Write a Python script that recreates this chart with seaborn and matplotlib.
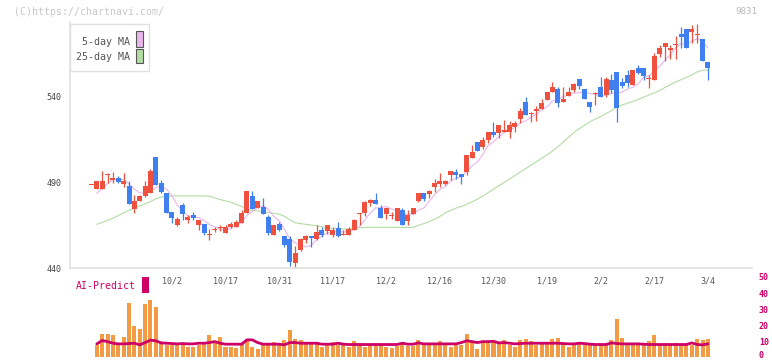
import numpy as np
import pandas as pd
import seaborn as sns
import matplotlib.pyplot as plt
import matplotlib.transforms as mtransforms
from matplotlib.patches import Rectangle

# daily candles, index 0 = first day shown, last one = 3/4
opens = [488.8, 485.9, 485.9, 494.1, 491.4, 492.5, 489.0, 487.7, 474.3, 479.0,
         481.9, 483.4, 504.7, 489.6, 483.8, 472.6, 465.2, 476.6, 467.9, 470.8,
         465.0, 465.6, 459.6, 462.5, 463.6, 460.5, 463.8, 464.0, 466.2, 472.0,
         482.1, 474.9, 475.3, 469.8, 459.2, 465.6, 458.6, 456.7, 442.7, 450.5,
         456.3, 458.6, 456.7, 462.1, 461.5, 459.2, 463.0, 459.2, 459.2, 462.1,
         471.8, 471.8, 477.8, 479.3, 474.9, 471.4, 470.8, 467.5, 473.7, 467.5,
         471.4, 479.1, 483.4, 483.0, 487.3, 488.8, 488.8, 494.1, 495.6, 494.7,
         495.6, 504.2, 513.3, 510.2, 514.2, 518.9, 518.3, 519.0, 518.9, 522.2,
         526.6, 536.5, 529.5, 531.5, 532.2, 537.9, 542.1, 543.9, 536.5, 540.0,
         543.5, 549.7, 544.1, 536.6, 541.2, 545.3, 540.6, 549.3, 554.0, 548.3,
         552.2, 546.4, 556.5, 556.5, 549.9, 549.3, 564.4, 568.7, 566.6, 570.1,
         576.1, 579.0, 577.4, 575.9, 573.1, 559.6]
highs = [488.8, 490.6, 496.4, 495.0, 495.8, 493.3, 495.0, 490.6, 482.4, 482.5,
         490.6, 497.6, 504.7, 491.0, 483.8, 472.6, 469.5, 478.0, 470.8, 472.6,
         467.9, 465.6, 462.7, 464.0, 465.0, 465.0, 466.9, 467.9, 473.7, 484.8,
         484.8, 479.0, 480.5, 470.8, 465.0, 466.9, 458.6, 458.6, 452.8, 457.5,
         459.2, 458.6, 465.0, 464.0, 465.0, 464.0, 466.7, 462.1, 464.0, 468.7,
         471.8, 478.7, 480.1, 483.8, 476.6, 474.9, 472.4, 474.9, 474.7, 473.7,
         474.7, 483.4, 483.4, 485.3, 491.6, 495.0, 491.0, 496.4, 497.6, 494.7,
         505.9, 511.5, 513.3, 516.0, 518.9, 524.7, 523.1, 526.0, 525.4, 525.4,
         532.8, 539.6, 530.5, 534.4, 538.0, 542.3, 548.1, 545.4, 545.4, 545.4,
         547.7, 549.7, 544.1, 536.6, 542.2, 551.2, 551.2, 552.7, 554.0, 550.3,
         555.1, 555.1, 558.0, 556.5, 552.2, 564.8, 569.7, 570.8, 569.7, 574.9,
         580.0, 579.0, 581.3, 581.9, 573.1, 559.6]
lows = [488.8, 485.9, 485.9, 489.2, 489.2, 489.2, 487.3, 477.2, 472.0, 479.0,
        481.5, 483.4, 488.3, 483.4, 471.8, 466.4, 464.6, 467.9, 466.4, 467.9,
        462.1, 459.2, 456.3, 461.1, 461.5, 460.5, 463.1, 464.0, 466.2, 472.0,
        474.3, 474.9, 471.4, 459.2, 459.2, 461.5, 452.4, 441.2, 440.8, 450.0,
        454.4, 452.4, 456.3, 457.8, 459.6, 457.8, 458.0, 459.2, 459.2, 462.1,
        465.0, 470.2, 476.0, 477.2, 469.1, 468.5, 468.3, 467.5, 465.0, 465.0,
        471.4, 478.1, 479.0, 480.5, 484.4, 487.3, 488.3, 491.2, 491.6, 488.8,
        494.3, 504.2, 508.2, 509.0, 512.5, 516.0, 515.8, 518.9, 515.8, 518.9,
        524.1, 528.9, 525.0, 525.2, 532.2, 537.4, 542.1, 533.8, 536.5, 540.0,
        542.5, 543.9, 538.1, 530.7, 535.0, 539.6, 539.6, 541.6, 525.0, 544.5,
        545.4, 546.4, 552.6, 549.3, 544.9, 549.3, 562.9, 560.6, 561.5, 561.5,
        567.7, 567.7, 570.6, 570.6, 560.6, 549.1]
closes = [488.8, 490.6, 490.6, 494.1, 492.5, 489.8, 490.6, 477.2, 479.0, 481.9,
          487.7, 496.4, 488.3, 484.4, 472.2, 469.3, 468.7, 471.4, 469.8, 468.9,
          467.9, 460.5, 459.6, 462.5, 463.6, 463.8, 465.8, 466.7, 472.0, 484.8,
          474.3, 479.0, 471.4, 460.5, 465.0, 462.1, 453.4, 443.7, 448.9, 456.8,
          458.6, 457.6, 461.1, 459.2, 465.0, 462.1, 458.5, 459.8, 462.5, 467.9,
          471.8, 478.1, 479.3, 477.2, 469.1, 474.9, 470.8, 474.9, 465.0, 470.8,
          474.7, 483.4, 480.1, 484.8, 489.6, 490.8, 490.8, 496.4, 494.1, 493.1,
          505.9, 507.7, 508.2, 514.6, 518.9, 517.4, 523.1, 520.0, 523.1, 524.5,
          531.5, 528.9, 530.3, 532.4, 535.7, 542.3, 545.0, 536.1, 538.3, 542.3,
          546.8, 546.0, 538.1, 533.6, 541.2, 539.6, 549.9, 543.7, 532.8, 546.0,
          547.7, 555.1, 553.5, 551.8, 549.9, 563.4, 568.1, 570.8, 568.1, 570.1,
          574.3, 567.7, 578.9, 575.9, 560.6, 556.5]

ma5 = [np.nan, 483.4, 486.2, 489.0, 491.3, 491.5, 491.5, 488.8, 485.8, 483.7,
       483.3, 484.4, 486.7, 487.7, 485.8, 482.1, 476.6, 473.2, 470.3, 469.6,
       469.3, 467.7, 465.3, 463.9, 462.8, 462.0, 463.1, 464.5, 466.4, 470.6,
       472.7, 475.4, 476.3, 474.0, 470.0, 467.6, 462.5, 456.9, 454.6, 453.0,
       452.3, 453.1, 456.6, 458.7, 460.3, 461.0, 461.2, 460.9, 461.6, 462.2,
       464.1, 468.0, 471.9, 474.9, 475.1, 475.7, 474.3, 473.4, 470.9, 471.3,
       471.2, 473.8, 474.8, 478.8, 482.5, 485.7, 487.2, 490.5, 492.3, 493.0,
       496.1, 499.4, 501.8, 505.9, 511.1, 513.4, 516.4, 518.8, 520.5, 521.6,
       524.4, 525.6, 527.7, 529.5, 531.8, 533.9, 537.1, 538.3, 539.5, 540.8,
       541.7, 541.9, 542.3, 541.4, 541.1, 539.7, 540.5, 541.6, 541.4, 542.4,
       544.0, 545.1, 547.0, 550.8, 551.6, 554.7, 557.3, 560.8, 564.1, 568.1,
       570.3, 570.2, 571.8, 573.4, 571.5, 567.9]
ma25 = [np.nan, 465.4, 466.5, 467.7, 468.9, 470.5, 472.0, 473.5, 474.8, 476.0,
        477.3, 478.6, 480.2, 481.2, 481.8, 481.9, 481.9, 481.9, 481.9, 481.9,
        481.9, 481.9, 481.8, 480.8, 479.8, 479.0, 478.2, 477.0, 475.8, 474.0,
        473.5, 473.2, 472.8, 472.2, 471.8, 471.3, 470.0, 468.0, 466.3, 465.8,
        465.4, 465.0, 464.6, 464.0, 463.3, 463.0, 462.8, 462.6, 462.8, 463.1,
        463.4, 463.6, 463.6, 463.6, 463.6, 463.6, 463.6, 463.6, 463.6, 463.6,
        463.6, 464.8, 465.8, 467.0, 468.3, 470.0, 472.0, 473.5, 474.8, 475.8,
        477.0, 478.5, 480.0, 481.8, 483.8, 485.8, 487.8, 489.8, 491.8, 493.8,
        495.8, 497.8, 499.8, 501.8, 503.8, 505.8, 508.0, 510.5, 513.2, 516.0,
        518.8, 521.0, 523.0, 525.0, 526.6, 528.0, 529.8, 531.5, 533.5, 534.8,
        535.8, 536.8, 538.0, 539.3, 540.6, 541.8, 543.2, 545.0, 546.6, 548.2,
        549.5, 550.8, 552.2, 554.0, 555.0, 555.1]

# AI-Predict panel (no value on the first day)
ai_bars = [np.nan, 7.8, 14.6, 14.6, 14.0, 7.8, 12.9, 33.9, 19.8, 17.7,
           33.2, 35.9, 31.6, 8.8, 7.8, 7.8, 7.8, 7.8, 6.3, 6.7,
           7.8, 9.4, 14.0, 9.4, 12.9, 6.7, 6.7, 5.9, 8.8, 11.5,
           6.7, 5.3, 7.8, 7.8, 9.4, 7.8, 10.9, 17.1, 11.5, 10.9,
           8.4, 9.4, 9.4, 6.7, 8.4, 9.4, 7.8, 7.8, 6.7, 10.1,
           8.8, 6.3, 8.4, 8.8, 7.8, 6.3, 6.0, 7.3, 8.4, 7.3,
           7.3, 10.9, 7.8, 7.8, 7.8, 10.1, 8.4, 6.3, 7.8, 7.8,
           14.6, 9.4, 5.3, 9.4, 8.8, 9.4, 8.8, 10.9, 7.8, 6.7,
           10.9, 11.5, 10.1, 7.8, 8.8, 8.4, 11.5, 12.2, 8.4, 6.7,
           8.4, 8.4, 7.8, 7.8, 7.8, 7.8, 7.8, 10.9, 23.9, 12.2,
           7.8, 7.8, 7.8, 7.8, 10.1, 14.0, 7.8, 8.8, 8.4, 8.8,
           8.4, 7.8, 7.8, 11.5, 10.9, 11.5]
ai_line = [np.nan, 8.4, 10.5, 9.8, 8.8, 8.4, 8.4, 8.6, 8.8, 7.8,
           9.2, 10.7, 10.3, 9.0, 8.8, 8.6, 8.4, 8.6, 8.4, 8.4,
           8.8, 8.8, 9.2, 9.8, 8.8, 8.2, 8.2, 8.2, 8.2, 10.9,
           10.9, 9.2, 8.2, 8.2, 8.2, 8.2, 7.8, 9.2, 9.2, 8.8,
           8.8, 8.8, 8.8, 8.2, 8.2, 8.2, 8.8, 8.2, 8.0, 8.0,
           8.0, 8.0, 8.0, 8.0, 8.0, 8.0, 8.0, 8.0, 8.8, 8.2,
           8.2, 9.0, 8.4, 8.4, 8.4, 8.4, 8.4, 8.4, 8.4, 9.2,
           10.3, 9.8, 9.2, 9.8, 9.8, 10.0, 9.0, 9.2, 8.8, 8.4,
           8.6, 8.8, 8.8, 8.8, 8.8, 8.8, 8.8, 8.8, 8.6, 8.4,
           8.4, 8.8, 8.6, 8.2, 8.0, 8.0, 8.0, 9.0, 8.6, 8.4,
           8.4, 8.4, 8.4, 8.2, 8.0, 8.0, 8.0, 8.0, 8.0, 8.0,
           8.0, 8.0, 9.0, 8.0, 7.8, 8.4]

date_labels = ["10/2", "10/17", "10/31", "11/17", "12/2", "12/16",
               "12/30", "1/19", "2/2", "2/17", "3/4"]
date_index = [15, 25, 35, 45, 55, 65, 75, 85, 95, 105, 115]
price_ticks = [440, 490, 540]
ai_ticks = [0, 10, 20, 30, 40, 50]

RED = "#f0503e"
BLUE = "#3f7ff0"
PINK = "#e9b5ec"
GREEN = "#b3dca5"
ORANGE = "#f39a44"
MAGENTA = "#cc0066"
GRID = "#e0e0e0"

sns.set_style("white")
plt.rcParams["font.family"] = ["DejaVu Sans Mono", "DejaVu Sans"]

W, H = 772, 361


def fx(px):
    return px / W


def fy(py):
    return 1 - py / H


fig = plt.figure(figsize=(W / 100, H / 100), dpi=100)
ax = fig.add_axes([fx(70), fy(268), fx(752) - fx(70), fy(22) - fy(268)])
ax2 = fig.add_axes([fx(70), fy(359), fx(752) - fx(70), fy(270) - fy(359)])

days = np.arange(len(closes))
o = np.array(opens)
c = np.array(closes)
col = np.where(c >= o, RED, BLUE)

# moving averages behind the candles
sns.lineplot(x=days, y=ma25, color=GREEN, lw=0.8, ax=ax, zorder=1)
sns.lineplot(x=days, y=ma5, color=PINK, lw=0.8, ax=ax, zorder=1)

ax.vlines(days, lows, highs, colors=col, lw=0.9, zorder=2)
body = np.abs(c - o)
body_h = np.maximum(body, 0.6)
ax.bar(days, body_h, bottom=np.minimum(o, c) - (body_h - body) / 2,
       width=0.93, color=col, linewidth=0, zorder=3)

xmin = (70 - 91.5) / 5.36
xmax = (752 - 91.5) / 5.36
ax.set_xlim(xmin, xmax)
ax.set_ylim(440, 440 + 246 / 1.72)
ax.set_xlabel("")
ax.set_ylabel("")

for side in ["top", "right"]:
    ax.spines[side].set_visible(False)
for side in ["left", "bottom"]:
    ax.spines[side].set_color(GRID)
    ax.spines[side].set_linewidth(1.2)

ax.set_yticks(price_ticks)
ax.set_yticklabels([str(t) for t in price_ticks])
ax.tick_params(axis="y", direction="inout", length=6, width=1, color=GRID,
               labelsize=6, labelcolor="#444444", pad=3)
ax.set_xticks([xmin + (xmax - xmin) * k / 11 for k in range(1, 12)])
ax.set_xticklabels([])
ax.tick_params(axis="x", direction="inout", length=4, width=1, color=GRID)

for lbl, pos in zip(date_labels, date_index):
    ax.text(pos, -13 / 246, lbl, transform=ax.get_xaxis_transform(),
            ha="center", va="center", fontsize=6, color="#555555")

# AI-Predict panel
ai_df = pd.DataFrame({"day": days, "score": ai_bars, "line": ai_line}).dropna()
sns.barplot(data=ai_df, x="day", y="score", native_scale=True, width=0.75,
            color=ORANGE, saturation=1, errorbar=None, linewidth=0, ax=ax2)
sns.lineplot(data=ai_df, x="day", y="line", color=MAGENTA, lw=2.0, ax=ax2)
ax2.set_xlim(xmin, xmax)
ax2.set_ylim(-1.0, 54.3)
ax2.set_xlabel("")
ax2.set_ylabel("")
ax2.set_xticks([])
ax2.yaxis.tick_right()
ax2.set_yticks(ai_ticks)
ax2.set_yticklabels([str(t) for t in ai_ticks])
ax2.tick_params(axis="y", length=0, pad=5, labelsize=6, labelcolor=MAGENTA)
lift = mtransforms.ScaledTranslation(0, 2.5 / 100, fig.dpi_scale_trans)
for lbl in ax2.get_yticklabels():
    lbl.set_fontweight("bold")
ax2.get_yticklabels()[0].set_transform(ax2.get_yticklabels()[0].get_transform() + lift)
for s in ax2.spines.values():
    s.set_visible(False)
ax2.patch.set_alpha(0)

# legend box
fig.add_artist(Rectangle((fx(70.3), fy(71.3)), fx(148.7) - fx(70.3), fy(24) - fy(71.3),
                         transform=fig.transFigure, facecolor="white",
                         edgecolor=GRID, lw=1, zorder=5))
fig.add_artist(Rectangle((fx(136.3), fy(46.7)), fx(6.4), fy(31) - fy(46.7),
                         transform=fig.transFigure, facecolor=PINK,
                         edgecolor="#555555", lw=0.8, zorder=6))
fig.add_artist(Rectangle((fx(136.3), fy(63.3)), fx(6.4), fy(48.7) - fy(63.3),
                         transform=fig.transFigure, facecolor=GREEN,
                         edgecolor="#555555", lw=0.8, zorder=6))
fig.text(fx(130), fy(41.7), "5-day MA", ha="right", va="center",
         fontsize=7.2, color="#555555", zorder=7)
fig.text(fx(130), fy(57.3), "25-day MA", ha="right", va="center",
         fontsize=7.2, color="#555555", zorder=7)

# AI-Predict label
fig.text(fx(76), fy(286), "AI-Predict", ha="left", va="center",
         fontsize=7.1, color=MAGENTA)
fig.add_artist(Rectangle((fx(142.3), fy(293)), fx(6.7), fy(277) - fy(293),
                         transform=fig.transFigure, facecolor=MAGENTA,
                         edgecolor="none", zorder=6))

fig.text(fx(14), fy(12), "(C)https://chartnavi.com/", ha="left", va="center",
         fontsize=7.1, color="#c8c8c8")
fig.text(fx(757), fy(12), "9831", ha="right", va="center",
         fontsize=6.6, color="#bbbbbb")

fig.savefig("out.png", dpi=100)
